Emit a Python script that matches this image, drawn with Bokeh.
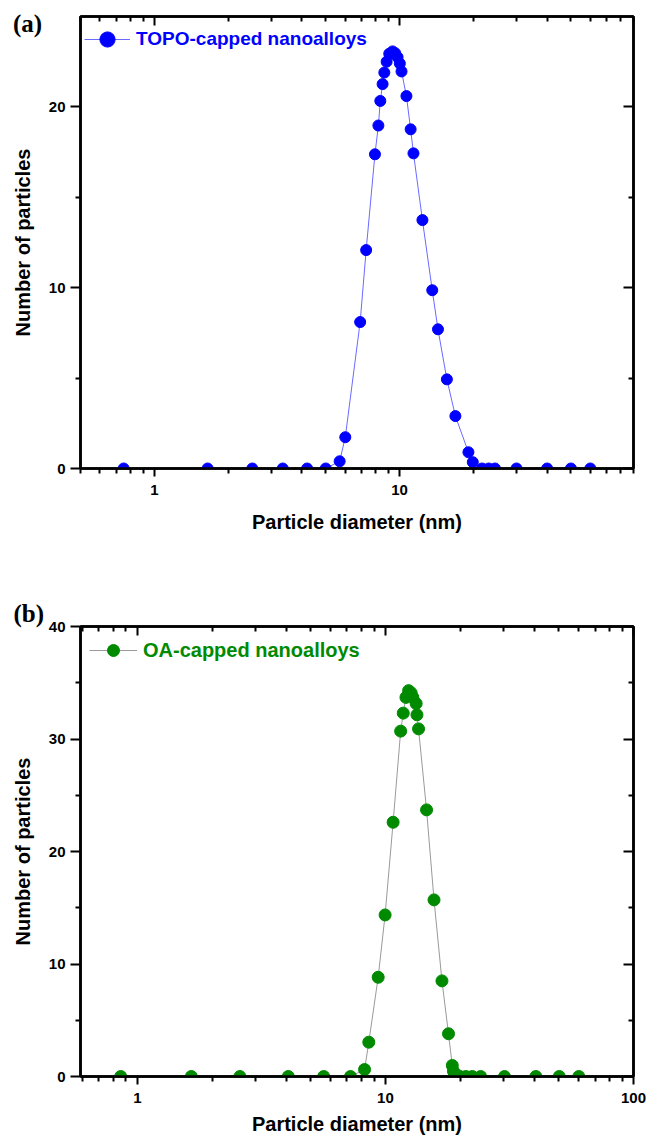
from bokeh.plotting import figure
from bokeh.models import (LogAxis, LinearAxis, FixedTicker, Range1d, Legend,
                          LegendItem, Title, Div, PrintfTickFormatter, ColumnDataSource)
from bokeh.layouts import column
from bokeh.embed import file_html
from bokeh.resources import INLINE

# ---- data ----
topo_diam = [0.75, 1.65, 2.51, 3.34, 4.2, 5.0, 5.7, 6.01, 6.91, 7.31, 7.94, 8.2,
             8.35, 8.53, 8.67, 8.86, 9.08, 9.37, 9.6, 9.82, 10.03, 10.19, 10.67,
             11.1, 11.4, 12.4, 13.6, 14.35, 15.6, 16.9, 19.1, 19.9, 21.7, 23.1,
             24.5, 30.0, 40.0, 50.0, 60.0]
topo_count = [0, 0, 0, 0, 0, 0, 0.4, 1.73, 8.1, 12.08, 17.38, 18.97,
              20.33, 21.26, 21.9, 22.5, 22.94, 23.07, 22.97, 22.75, 22.4, 21.96, 20.6,
              18.76, 17.43, 13.74, 9.86, 7.7, 4.93, 2.9, 0.9, 0.35, 0, 0,
              0, 0, 0, 0, 0]

oa_diam = [0.857, 1.65, 2.59, 4.06, 5.64, 7.23, 8.24, 8.57, 9.35, 9.97, 10.74,
           11.52, 11.8, 12.1, 12.4, 12.7, 12.9, 13.3, 13.4, 13.6, 14.65, 15.7,
           16.9, 17.96, 18.6, 18.8, 19.8, 21.1, 22.4, 24.2, 30.2, 40.4, 50.2, 60.2]
oa_count = [0, 0, 0, 0, 0, 0, 0.62, 3.05, 8.82, 14.36, 22.6,
            30.7, 32.3, 33.7, 34.3, 34.1, 33.7, 33.15, 32.15, 30.9, 23.7, 15.7,
            8.5, 3.8, 0.98, 0.47, 0.05, 0, 0, 0, 0, 0, 0, 0]

x_major_ticks = [0.1, 1, 10, 100]
x_minor_ticks = [m * 10.0 ** k for k in (-1, 0, 1) for m in range(2, 10)]

top_y_major = [0, 10, 20]
top_y_minor = [5, 15]
bot_y_major = [0, 10, 20, 30, 40]
bot_y_minor = [5, 15, 25, 35]

FONT = "Liberation Sans"
SERIF = "Liberation Serif"
W = 651


def style_axis(ax, inward, major_len, minor_len, show_labels):
    ax.axis_line_width = 2.5
    ax.axis_line_color = "black"
    ax.major_tick_line_width = 2
    ax.minor_tick_line_width = 2
    ax.major_tick_line_color = "black"
    ax.minor_tick_line_color = "black"
    if inward:
        ax.major_tick_in, ax.major_tick_out = major_len, 0
        ax.minor_tick_in, ax.minor_tick_out = minor_len, 0
    else:
        ax.major_tick_in, ax.major_tick_out = 0, major_len
        ax.minor_tick_in, ax.minor_tick_out = 0, minor_len
    ax.major_label_text_font = FONT
    ax.major_label_text_font_style = "bold"
    ax.major_label_text_color = "black"
    if show_labels:
        ax.major_label_text_font_size = "15px"
    else:
        ax.major_label_text_font_size = "1px"
        ax.major_label_text_alpha = 0
        ax.major_label_standoff = 0
    ax.axis_label_text_font = FONT
    ax.axis_label_text_font_style = "bold"
    ax.axis_label_text_font_size = "20px"
    ax.axis_label_text_color = "black"


def make_panel(diam, count, xr, yr, ymaj, ymin, borders, marker_color, line_color,
               msize, label, text_color, legend_pad, glyph_w, glyph_h, standoff,
               legend_font, height, xlabel_standoff):
    xt = FixedTicker(ticks=x_major_ticks, minor_ticks=x_minor_ticks)
    yt = FixedTicker(ticks=ymaj, minor_ticks=ymin)
    p = figure(width=W, height=height, x_axis_type="log",
               x_range=Range1d(*xr), y_range=Range1d(*yr),
               output_backend="svg", toolbar_location=None,
               min_border_left=borders[0], min_border_right=borders[1],
               min_border_top=borders[2], min_border_bottom=borders[3])
    p.grid.visible = False
    p.outline_line_color = "black"
    p.outline_line_width = 2.5
    p.background_fill_color = "white"
    p.border_fill_color = "white"

    xa = p.xaxis[0]
    xa.ticker = xt
    xa.formatter = PrintfTickFormatter(format="%d")
    style_axis(xa, False, 8, 5, True)
    xa.major_label_standoff = 8
    xa.axis_label = "Particle diameter (nm)"
    xa.axis_label_standoff = xlabel_standoff

    ya = p.yaxis[0]
    ya.ticker = yt
    style_axis(ya, False, 10, 5, True)
    ya.major_label_standoff = 5
    ya.axis_label = "Number of particles"
    ya.axis_label_standoff = 12

    top = LogAxis(ticker=FixedTicker(ticks=x_major_ticks, minor_ticks=x_minor_ticks))
    style_axis(top, True, 9, 5, False)
    p.add_layout(top, "above")
    right = LinearAxis(ticker=FixedTicker(ticks=ymaj, minor_ticks=ymin))
    style_axis(right, True, 10, 5, False)
    p.add_layout(right, "right")

    src = ColumnDataSource(dict(d=diam, n=count))
    lr = p.line("d", "n", source=src, line_color=line_color, line_width=1)
    sr = p.scatter("d", "n", source=src, size=msize, fill_color=marker_color,
                   line_color=marker_color)

    leg = Legend(items=[LegendItem(label=label, renderers=[lr, sr])],
                 location="top_left", margin=0, padding=legend_pad,
                 glyph_width=glyph_w, glyph_height=glyph_h, label_height=glyph_h,
                 label_standoff=standoff, label_text_font=FONT,
                 label_text_font_style="bold", label_text_font_size=legend_font,
                 label_text_color=text_color, background_fill_alpha=0,
                 border_line_alpha=0)
    p.add_layout(leg)
    return p


H1 = 568
H2 = 573
p1 = make_panel(topo_diam, topo_count, (0.5, 90), (0, 25), top_y_major, top_y_minor,
                (75, 18, 16, 100), "#0000FF", "#6a6aff", 11,
                "TOPO-capped nanoalloys", "#0000FF", 4, 46, 38, 6, "19px",
                H1, 13)

p2 = make_panel(oa_diam, oa_count, (0.59, 100), (0, 40), bot_y_major, bot_y_minor,
                (80, 14, 58, 65), "#008a00", "#9a9a9a", 12,
                "OA-capped nanoalloys", "#008a00", 9, 48, 30, 6, "20px",
                H2, 7)

# panel tag (b) as a left-aligned title above the lower frame
p2.title = Title(text="(b)", align="left", offset=-67, standoff=0,
                 text_font=SERIF, text_font_style="bold", text_font_size="25px",
                 text_color="black")

# panel tag (a), beside the upper frame's top-left corner (overlaid on the page)
tag_a = Div(text="(a)", styles={"position": "absolute", "left": "13px", "top": "11px",
                                "z-index": "100",
                                "font-family": SERIF, "font-weight": "bold",
                                "font-size": "25px", "line-height": "1",
                                "color": "black", "margin": "0", "padding": "0"})

layout = column(p1, p2, tag_a, spacing=0)
open("out.html", "w").write(file_html(layout, INLINE))
